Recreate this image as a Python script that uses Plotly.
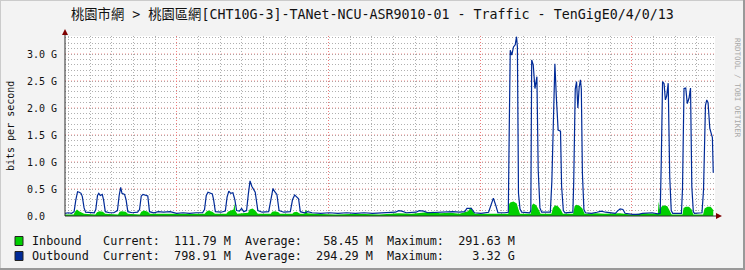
import plotly.graph_objects as go

# ---------------- data (days from left edge of graph, Gbit/s) ----------------
out_day = [0.00, 0.15, 0.30, 0.42, 0.50, 0.58, 0.66, 0.74, 0.80, 0.88, 0.95,
           1.15, 1.35, 1.42, 1.50, 1.56, 1.63, 1.72, 1.78, 1.86,
           2.05, 2.25, 2.42, 2.50, 2.57, 2.63, 2.75, 2.82, 2.90,
           3.10, 3.35, 3.44, 3.52, 3.60, 3.72, 3.82, 3.90,
           4.10, 4.30, 4.55, 4.85, 5.15, 5.45, 5.75, 6.05, 6.35,
           6.44, 6.52, 6.60, 6.70, 6.80, 6.86, 6.94,
           7.20, 7.40, 7.48, 7.56, 7.65, 7.75, 7.84, 7.92,
           8.05, 8.15, 8.25, 8.38, 8.46, 8.54, 8.62, 8.70, 8.78, 8.90,
           9.10, 9.40, 9.50, 9.60, 9.68, 9.78, 9.88,
           10.10, 10.40, 10.50, 10.60, 10.70, 10.78, 10.86,
           11.05, 11.20, 11.40, 11.80, 12.20, 12.60, 13.00, 13.40, 13.80, 14.20,
           14.60, 15.00, 15.25, 15.40, 15.55, 15.75, 16.20, 16.35, 16.55, 16.75,
           17.10, 17.50, 17.90, 18.20, 18.45, 18.55, 18.75, 18.90,
           19.20, 19.55, 19.65, 19.77, 19.88, 19.98, 20.30, 20.46,
           20.50, 20.55, 20.62, 20.70, 20.78, 20.84, 20.88, 20.93, 21.00, 21.08,
           21.45, 21.50, 21.54, 21.61, 21.69, 21.78, 21.84, 21.92, 22.00,
           22.40, 22.47, 22.54, 22.61, 22.68, 22.76, 22.87, 22.92, 23.00, 23.08,
           23.44, 23.48, 23.55, 23.61, 23.67, 23.73, 23.79, 23.83, 23.88, 23.95, 24.02,
           24.30, 24.55, 24.75, 24.95, 25.15, 25.40, 25.52, 25.62, 25.75, 25.85,
           26.20, 26.50, 26.65, 26.85, 27.10, 27.35, 27.47,
           27.52, 27.58, 27.65, 27.71, 27.77, 27.84, 27.91, 27.98, 28.05,
           28.45, 28.50, 28.57, 28.65, 28.72, 28.80, 28.87, 28.93, 29.00, 29.05,
           29.40, 29.47, 29.56, 29.62, 29.68, 29.76, 29.83, 29.88, 29.92]
out_gbps = [0.05, 0.06, 0.05, 0.08, 0.30, 0.45, 0.44, 0.42, 0.36, 0.15, 0.07,
            0.06, 0.06, 0.12, 0.38, 0.42, 0.38, 0.40, 0.30, 0.08,
            0.06, 0.06, 0.10, 0.38, 0.53, 0.42, 0.40, 0.30, 0.08,
            0.06, 0.07, 0.12, 0.37, 0.40, 0.38, 0.37, 0.08,
            0.06, 0.08, 0.07, 0.08, 0.05, 0.06, 0.05, 0.06, 0.06,
            0.12, 0.38, 0.44, 0.42, 0.41, 0.30, 0.08,
            0.07, 0.09, 0.35, 0.46, 0.42, 0.43, 0.30, 0.10,
            0.09, 0.14, 0.08, 0.10, 0.40, 0.65, 0.55, 0.50, 0.44, 0.10,
            0.07, 0.08, 0.30, 0.51, 0.45, 0.40, 0.10,
            0.07, 0.08, 0.30, 0.39, 0.34, 0.32, 0.08,
            0.06, 0.08, 0.06, 0.05, 0.06, 0.05, 0.06, 0.05, 0.06, 0.05,
            0.06, 0.06, 0.07, 0.10, 0.09, 0.06, 0.07, 0.10, 0.09, 0.06,
            0.07, 0.07, 0.08, 0.07, 0.08, 0.14, 0.14, 0.06,
            0.05, 0.07, 0.20, 0.33, 0.20, 0.06, 0.06, 0.07,
            1.50, 3.07, 2.98, 3.13, 3.17, 3.32, 3.13, 0.42, 0.13, 0.07,
            0.06, 0.10, 2.89, 2.80, 2.36, 2.58, 0.85, 0.15, 0.07,
            0.07, 0.64, 1.90, 2.82, 2.18, 1.59, 1.57, 0.55, 0.10, 0.06,
            0.07, 0.64, 2.35, 2.49, 2.00, 2.38, 2.52, 2.35, 0.79, 0.12, 0.06,
            0.05, 0.07, 0.09, 0.07, 0.06, 0.05, 0.10, 0.13, 0.12, 0.05,
            0.03, 0.03, 0.05, 0.06, 0.06, 0.04, 0.05,
            1.00, 2.49, 2.45, 2.15, 2.22, 2.46, 0.73, 0.10, 0.05,
            0.05, 0.50, 2.36, 2.37, 2.08, 2.18, 2.37, 0.54, 0.08, 0.05,
            0.06, 0.48, 2.05, 2.15, 2.10, 1.62, 1.48, 1.45, 0.80]

in_day = [0.00, 0.40, 0.46, 0.55, 0.65, 0.78, 0.88,
          1.40, 1.48, 1.58, 1.75, 1.85,
          2.45, 2.52, 2.62, 2.80, 2.90,
          3.45, 3.52, 3.65, 3.82, 3.92,
          4.30, 4.60, 5.00, 5.50, 6.00,
          6.45, 6.52, 6.62, 6.80, 6.92,
          7.45, 7.52, 7.65, 7.78, 7.82, 7.86, 7.95,
          8.20, 8.45, 8.52, 8.65, 8.78, 8.90,
          9.50, 9.56, 9.70, 9.85, 9.92,
          10.50, 10.56, 10.70, 10.85,
          11.05, 11.12, 11.18, 11.50, 12.50, 13.50, 14.50, 15.40, 16.00,
          16.70, 17.00, 17.30, 17.80, 18.20, 18.60, 18.74, 18.80, 18.92,
          19.50, 20.00, 20.46,
          20.50, 20.55, 20.70, 20.85, 20.93, 21.00,
          21.50, 21.55, 21.62, 21.75, 21.88, 21.95,
          22.45, 22.52, 22.62, 22.75, 22.88, 22.98,
          23.45, 23.52, 23.60, 23.75, 23.88, 23.98,
          24.50, 24.90, 25.60, 26.10, 26.70, 27.00, 27.36,
          27.40, 27.45, 27.55, 27.65, 27.80, 27.92, 28.00,
          28.50, 28.55, 28.65, 28.80, 28.92, 29.00,
          29.45, 29.52, 29.65, 29.80, 29.92]
in_gbps = [0.03, 0.03, 0.08, 0.12, 0.09, 0.07, 0.04,
           0.03, 0.07, 0.09, 0.08, 0.04,
           0.03, 0.08, 0.09, 0.08, 0.04,
           0.03, 0.08, 0.10, 0.08, 0.04,
           0.04, 0.03, 0.04, 0.03, 0.03,
           0.04, 0.08, 0.10, 0.08, 0.04,
           0.04, 0.08, 0.10, 0.12, 0.23, 0.10, 0.04,
           0.05, 0.06, 0.12, 0.14, 0.10, 0.04,
           0.04, 0.08, 0.09, 0.07, 0.04,
           0.04, 0.07, 0.08, 0.04,
           0.04, 0.12, 0.05, 0.04, 0.03, 0.04, 0.03, 0.05, 0.04,
           0.07, 0.08, 0.05, 0.06, 0.04, 0.09, 0.16, 0.10, 0.04,
           0.04, 0.04, 0.04,
           0.22, 0.25, 0.27, 0.23, 0.12, 0.04,
           0.04, 0.20, 0.23, 0.20, 0.10, 0.04,
           0.04, 0.15, 0.20, 0.18, 0.12, 0.04,
           0.04, 0.18, 0.21, 0.19, 0.14, 0.04,
           0.05, 0.04, 0.05, 0.03, 0.05, 0.04, 0.04,
           0.27, 0.12, 0.18, 0.20, 0.18, 0.08, 0.03,
           0.03, 0.15, 0.17, 0.17, 0.12, 0.03,
           0.03, 0.14, 0.17, 0.17, 0.11]

y_tick_vals = [0.0, 0.5, 1.0, 1.5, 2.0, 2.5, 3.0]
y_tick_text = ["0.0  ", "0.5 G", "1.0 G", "1.5 G", "2.0 G", "2.5 G", "3.0 G"]
week_labels = ["Week 06", "Week 07", "Week 08", "Week 09", "Week 10"]
week_mid = [1.655, 8.655, 15.655, 22.655, 29.655]
week_start = [5.155, 12.155, 19.155, 26.155]

title = "桃園市網 > 桃園區網[CHT10G-3]-TANet-NCU-ASR9010-01 - Traffic - TenGigE0/4/0/13"
legend_rows = [
    ("Inbound", "#00CF00", "Inbound   Current:  111.79 M  Average:   58.45 M  Maximum:  291.63 M"),
    ("Outbound", "#002A97", "Outbound  Current:  798.91 M  Average:  294.29 M  Maximum:    3.32 G"),
]

# ---------------- layout geometry ----------------
W, H = 745, 270
L, R, T, B = 65, 715, 36, 216
MONO = "DejaVu Sans Mono, Noto Sans CJK TC, monospace"
NB = "\u00a0"


def px(xp):
    return (xp - L) / (R - L)


def py(yp):
    return (B - yp) / (B - T)


fig = go.Figure()
fig.add_trace(go.Scatter(x=in_day, y=in_gbps, mode="lines", fill="tozeroy",
                         line=dict(color="#00CF00", width=0), fillcolor="#00CF00",
                         hoverinfo="skip", showlegend=False))
fig.add_trace(go.Scatter(x=out_day, y=out_gbps, mode="lines",
                         line=dict(color="#002A97", width=1.2),
                         hoverinfo="skip", showlegend=False))

red_grid = "rgba(255,110,110,0.8)"
gray_grid = "rgba(150,150,150,0.75)"
DOT = "1px,2px"

shapes = []
annotations = []

# major horizontal grid (red dotted), drawn under the traces
for v in y_tick_vals[1:]:
    shapes.append(dict(type="line", xref="paper", yref="y", x0=0, x1=1, y0=v, y1=v,
                       layer="below", line=dict(color=red_grid, width=1, dash=DOT)))

# outer 3D border
shapes.append(dict(type="line", xref="paper", yref="paper", x0=px(0), x1=px(W), y0=py(0.5), y1=py(0.5),
                   line=dict(color="#CBCBCB", width=1)))
shapes.append(dict(type="line", xref="paper", yref="paper", x0=px(0.5), x1=px(0.5), y0=py(0), y1=py(H),
                   line=dict(color="#CBCBCB", width=1)))
shapes.append(dict(type="line", xref="paper", yref="paper", x0=px(0), x1=px(W), y0=py(H - 1), y1=py(H - 1),
                   line=dict(color="#999999", width=2)))
shapes.append(dict(type="line", xref="paper", yref="paper", x0=px(W - 1), x1=px(W - 1), y0=py(0), y1=py(H),
                   line=dict(color="#999999", width=2)))

# axis lines + arrows
shapes.append(dict(type="line", xref="paper", yref="paper", x0=px(L), x1=px(L), y0=py(B), y1=py(31),
                   line=dict(color="#2C2C2C", width=1)))
shapes.append(dict(type="line", xref="paper", yref="paper", x0=px(L), x1=px(719), y0=py(B), y1=py(B),
                   line=dict(color="#2C2C2C", width=1)))
shapes.append(dict(type="path", xref="paper", yref="paper",
                   path=f"M {px(62)} {py(35)} L {px(68)} {py(35)} L {px(65)} {py(29)} Z",
                   fillcolor="#7F0000", line=dict(width=0)))
shapes.append(dict(type="path", xref="paper", yref="paper",
                   path=f"M {px(716)} {py(213)} L {px(716)} {py(219)} L {px(722)} {py(216)} Z",
                   fillcolor="#7F0000", line=dict(width=0)))

# legend boxes and text
for i, (name, col, txt) in enumerate(legend_rows):
    yc = 241 + 15 * i
    shapes.append(dict(type="rect", xref="paper", yref="paper",
                       x0=px(15), x1=px(23), y0=py(yc - 4.5), y1=py(yc + 4.5),
                       fillcolor=col, line=dict(color="#222222", width=1)))
    annotations.append(dict(text=txt.replace(" ", NB), xref="paper", yref="paper",
                            x=px(30), y=py(yc), xanchor="left", yanchor="middle", showarrow=False,
                            font=dict(family=MONO, size=11.8, color="#111111")))

annotations.append(dict(text=title, xref="paper", yref="paper", x=px(372.5), y=py(14),
                        xanchor="center", yanchor="middle", showarrow=False,
                        font=dict(family=MONO, size=13.3, color="#111111")))
annotations.append(dict(text="bits per second", xref="paper", yref="paper", x=px(10), y=py(126),
                        xanchor="center", yanchor="middle", showarrow=False, textangle=-90,
                        font=dict(family=MONO, size=10, color="#111111")))
annotations.append(dict(text="RRDTOOL / TOBI OETIKER", xref="paper", yref="paper", x=px(738), y=py(36),
                        xanchor="center", yanchor="top", showarrow=False, textangle=90,
                        font=dict(family=MONO, size=7.5, color="#A8A8A8")))

fig.update_layout(
    width=W, height=H,
    margin=dict(l=L, r=W - R, t=T, b=H - B, pad=0),
    paper_bgcolor="#F3F3F3", plot_bgcolor="#FFFFFF",
    showlegend=False,
    shapes=shapes, annotations=annotations,
    xaxis=dict(range=[0, 30], tickmode="array", tickvals=week_start, showticklabels=False,
               ticks="", showgrid=True, gridcolor=red_grid, griddash=DOT, gridwidth=1,
               zeroline=False, showline=False,
               minor=dict(tick0=0.155, dtick=1, showgrid=True, gridcolor=gray_grid,
                          griddash=DOT, gridwidth=1, ticks="")),
    xaxis2=dict(range=[0, 30], overlaying="x", anchor="y", side="bottom", tickmode="array",
                tickvals=week_mid, ticktext=week_labels, ticks="outside", ticklen=3,
                tickcolor="#333333", showgrid=False, zeroline=False, showline=False,
                ticklabelstandoff=1,
                tickfont=dict(family=MONO, size=10, color="#111111")),
    yaxis=dict(range=[0, 10 / 3], tickmode="array", tickvals=y_tick_vals,
               ticktext=[t.replace(" ", NB) for t in y_tick_text],
               ticks="", ticklabelstandoff=7,
               tickfont=dict(family=MONO, size=10, color="#111111"),
               showgrid=False, zeroline=False, showline=False,
               minor=dict(tick0=0, dtick=0.1, showgrid=True, gridcolor=gray_grid,
                          griddash=DOT, gridwidth=1, ticks="")),
)

fig.write_html("out.html")
